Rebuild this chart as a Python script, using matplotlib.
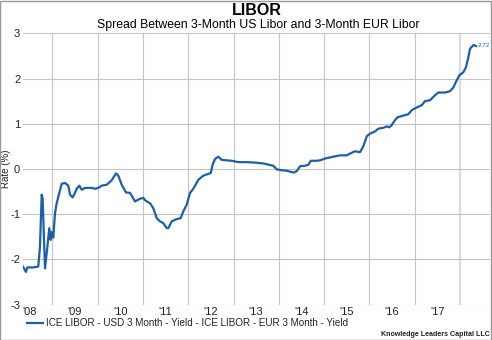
import numpy as np
import matplotlib
matplotlib.use("Agg")
import matplotlib.pyplot as plt
from matplotlib.patches import Rectangle

plt.rcParams['font.family'] = ['Liberation Sans', 'DejaVu Sans']

# spread USD 3M Libor - EUR 3M Libor (decimal years)
dates = [2008.347, 2008.375, 2008.419, 2008.448, 2008.581, 2008.691, 2008.728, 2008.766,
         2008.788, 2008.817, 2008.839, 2008.876, 2008.934, 2008.965, 2008.987, 2009.022,
         2009.060, 2009.097, 2009.155, 2009.208, 2009.280, 2009.353, 2009.391, 2009.450,
         2009.501, 2009.539, 2009.596, 2009.649, 2009.722, 2009.870, 2009.943, 2010.015,
         2010.091, 2010.201, 2010.311, 2010.406, 2010.457, 2010.532, 2010.627, 2010.715,
         2010.826, 2010.936, 2011.009, 2011.046, 2011.119, 2011.157, 2011.230, 2011.305,
         2011.377, 2011.450, 2011.525, 2011.561, 2011.636, 2011.746, 2011.834, 2011.892,
         2011.967, 2012.040, 2012.113, 2012.223, 2012.333, 2012.497, 2012.541, 2012.592,
         2012.664, 2012.740, 2012.850, 2012.960, 2013.106, 2013.291, 2013.475, 2013.658,
         2013.879, 2013.954, 2014.064, 2014.174, 2014.285, 2014.336, 2014.395, 2014.468,
         2014.578, 2014.651, 2014.704, 2014.837, 2014.910, 2015.020, 2015.203, 2015.351,
         2015.499, 2015.572, 2015.682, 2015.792, 2015.865, 2015.940, 2016.013, 2016.124,
         2016.196, 2016.307, 2016.382, 2016.439, 2016.492, 2016.565, 2016.616, 2016.748,
         2016.859, 2016.934, 2017.044, 2017.155, 2017.227, 2017.338, 2017.448, 2017.521,
         2017.669, 2017.779, 2017.852, 2017.927, 2017.985, 2018.073, 2018.132, 2018.183,
         2018.221, 2018.294, 2018.353]
spread = [-2.15, -2.20, -2.28, -2.18, -2.18, -2.16, -1.72, -0.57,
          -0.66, -1.57, -2.20, -1.87, -1.31, -1.57, -1.40, -1.52,
          -0.98, -0.76, -0.53, -0.33, -0.31, -0.37, -0.57, -0.63,
          -0.53, -0.44, -0.37, -0.46, -0.42, -0.42, -0.44, -0.42,
          -0.37, -0.35, -0.25, -0.10, -0.15, -0.35, -0.52, -0.53,
          -0.72, -0.66, -0.64, -0.69, -0.74, -0.76, -0.87, -1.09,
          -1.16, -1.20, -1.31, -1.31, -1.16, -1.11, -1.09, -0.94,
          -0.79, -0.53, -0.44, -0.24, -0.15, -0.09, 0.10, 0.22,
          0.27, 0.20, 0.19, 0.18, 0.15, 0.15, 0.14, 0.12,
          0.07, -0.01, -0.03, -0.04, -0.07, -0.08, -0.05, 0.06,
          0.07, 0.09, 0.18, 0.18, 0.19, 0.23, 0.27, 0.30,
          0.30, 0.34, 0.39, 0.37, 0.50, 0.72, 0.78, 0.83,
          0.89, 0.91, 0.94, 0.92, 0.97, 1.08, 1.14, 1.18,
          1.21, 1.30, 1.36, 1.41, 1.50, 1.52, 1.63, 1.69,
          1.69, 1.72, 1.80, 1.96, 2.07, 2.14, 2.25, 2.47,
          2.66, 2.74, 2.72]

years = list(range(2009, 2019))
year_labels = ["'08", "'09", "'10", "'11", "'12", "'13", "'14", "'15", "'16", "'17"]
y_ticks = [-3, -2, -1, 0, 1, 2, 3]
last_value = 2.72

blue = '#1d5fa8'

fig = plt.figure(figsize=(4.92, 3.4), dpi=100)
ax = fig.add_axes([0.0467, 0.1044, 0.9493, 0.7976])

for yr in years[:-1]:
    ax.axvline(yr, color='#c4c4c4', lw=0.8, zorder=1)
ax.axvline(years[-1], color='#dcdcdc', lw=1.6, zorder=1)
for yv in y_ticks:
    ax.axhline(yv, color='#c4c4c4', lw=0.8, zorder=1)

ax.plot(dates, spread, color=blue, lw=1.6, zorder=3, solid_joinstyle='round')
ax.text(dates[-1] + 0.03, spread[-1], '%.2f' % last_value, fontsize=4.5,
        color=blue, va='center', ha='left')

ax.set_xlim(2008.353, 2018.662)
ax.set_ylim(-3, 3)
ax.set_yticks(y_ticks)
ax.set_yticklabels([str(v) for v in y_ticks], fontsize=8, color='#222222')
ax.set_xticks([y - 0.5 for y in years])
ax.set_xticklabels(year_labels, fontsize=8, color='#222222')
ax.tick_params(length=0, pad=2)
for s in ax.spines.values():
    s.set_visible(False)
ax.set_ylabel('Rate (%)', fontsize=7, color='#222222')
ax.yaxis.set_label_coords(-0.026, 0.5)

fig.text(0.522, 0.968, 'LIBOR', fontsize=11.5, fontweight='bold', ha='center', va='center')
fig.text(0.524, 0.926, 'Spread Between 3-Month US Libor and 3-Month EUR Libor',
         fontsize=8.8, ha='center', va='center')

# legend row
fig.add_artist(plt.Line2D([27 / 492, 43 / 492], [1 - 323 / 340] * 2, color=blue, lw=1.6))
fig.text(46 / 492, 1 - 323 / 340, 'ICE LIBOR - USD 3 Month - Yield - ICE LIBOR - EUR 3 Month - Yield',
         fontsize=7.15, va='center', ha='left', color='#222222')
fig.text(0.996, 1 - 334 / 340, 'Knowledge Leaders Capital LLC', fontsize=5.1,
         fontweight='bold', ha='right', va='center', color='#222222')

fig.add_artist(Rectangle((0.001, 0.001), 0.997, 0.996, transform=fig.transFigure,
                         fill=False, edgecolor='#999999', lw=1))

fig.savefig('out.png', dpi=100)
